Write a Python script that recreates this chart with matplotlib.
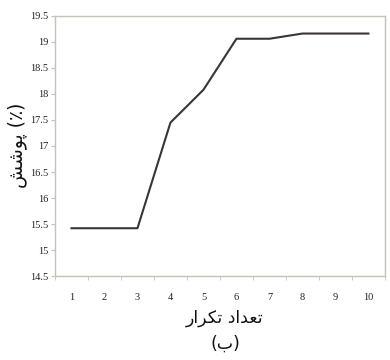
import matplotlib
matplotlib.use("Agg")
import matplotlib.pyplot as plt
import numpy as np

# repetition count and coverage (%)
repeats = [1, 2, 3, 4, 5, 6, 7, 8, 9, 10]
coverage = [15.42, 15.42, 15.42, 17.45, 18.08, 19.06, 19.06, 19.16, 19.16, 19.16]
y_ticks = [14.5, 15, 15.5, 16, 16.5, 17, 17.5, 18, 18.5, 19, 19.5]

# Persian labels written in visual order with presentation forms
xlabel_fa = "\uFEAD\uFE8D\uFEAE\uFB91\uFE97 \uFEA9\uFE8D\uFEAA\uFECC\uFE97"
ylabel_fa = "\uFEB6\uFEB7\uFEEE\uFB58 (\u066A)"
panel_fa = "(\uFE8F)"

spine_col = "#cbbfb8"
line_col = "#3a3435"

fig = plt.figure(figsize=(3.9, 3.6), dpi=100)
ax = fig.add_axes([0.141, 0.233, 0.846, 0.723])

ax.plot(repeats, coverage, color=line_col, linewidth=1.5)

ax.set_xlim(0.5, 10.5)
ax.set_ylim(14.5, 19.5)
ax.set_xticks(repeats)
ax.set_xticks(np.arange(0.5, 11, 1), minor=True)
ax.set_yticks(y_ticks)
ax.set_yticklabels([("%g" % v) for v in y_ticks])

for s in ax.spines.values():
    s.set_color(spine_col)
    s.set_linewidth(1.0)

ax.tick_params(axis="x", which="major", length=0, pad=12, labelsize=7.5, labelcolor="#222222")
ax.tick_params(axis="x", which="minor", length=3, color=spine_col)
ax.tick_params(axis="y", length=3, color=spine_col, labelsize=7.5, labelcolor="#222222", pad=2)
for lab in ax.get_xticklabels() + ax.get_yticklabels():
    lab.set_fontfamily("Liberation Serif")

fig.text(0.577, 0.118, xlabel_fa, ha="center", va="center", fontsize=12.5,
         family=["DejaVu Sans"], color="#111111")
fig.text(0.577, 0.045, panel_fa, ha="center", va="center", fontsize=12.5,
         family=["DejaVu Sans"], color="#111111")
fig.text(0.045, 0.597, ylabel_fa, ha="center", va="center", rotation=90,
         fontsize=13.5, family=["DejaVu Sans"], color="#111111")

fig.savefig("out.png", dpi=100, facecolor="white")
